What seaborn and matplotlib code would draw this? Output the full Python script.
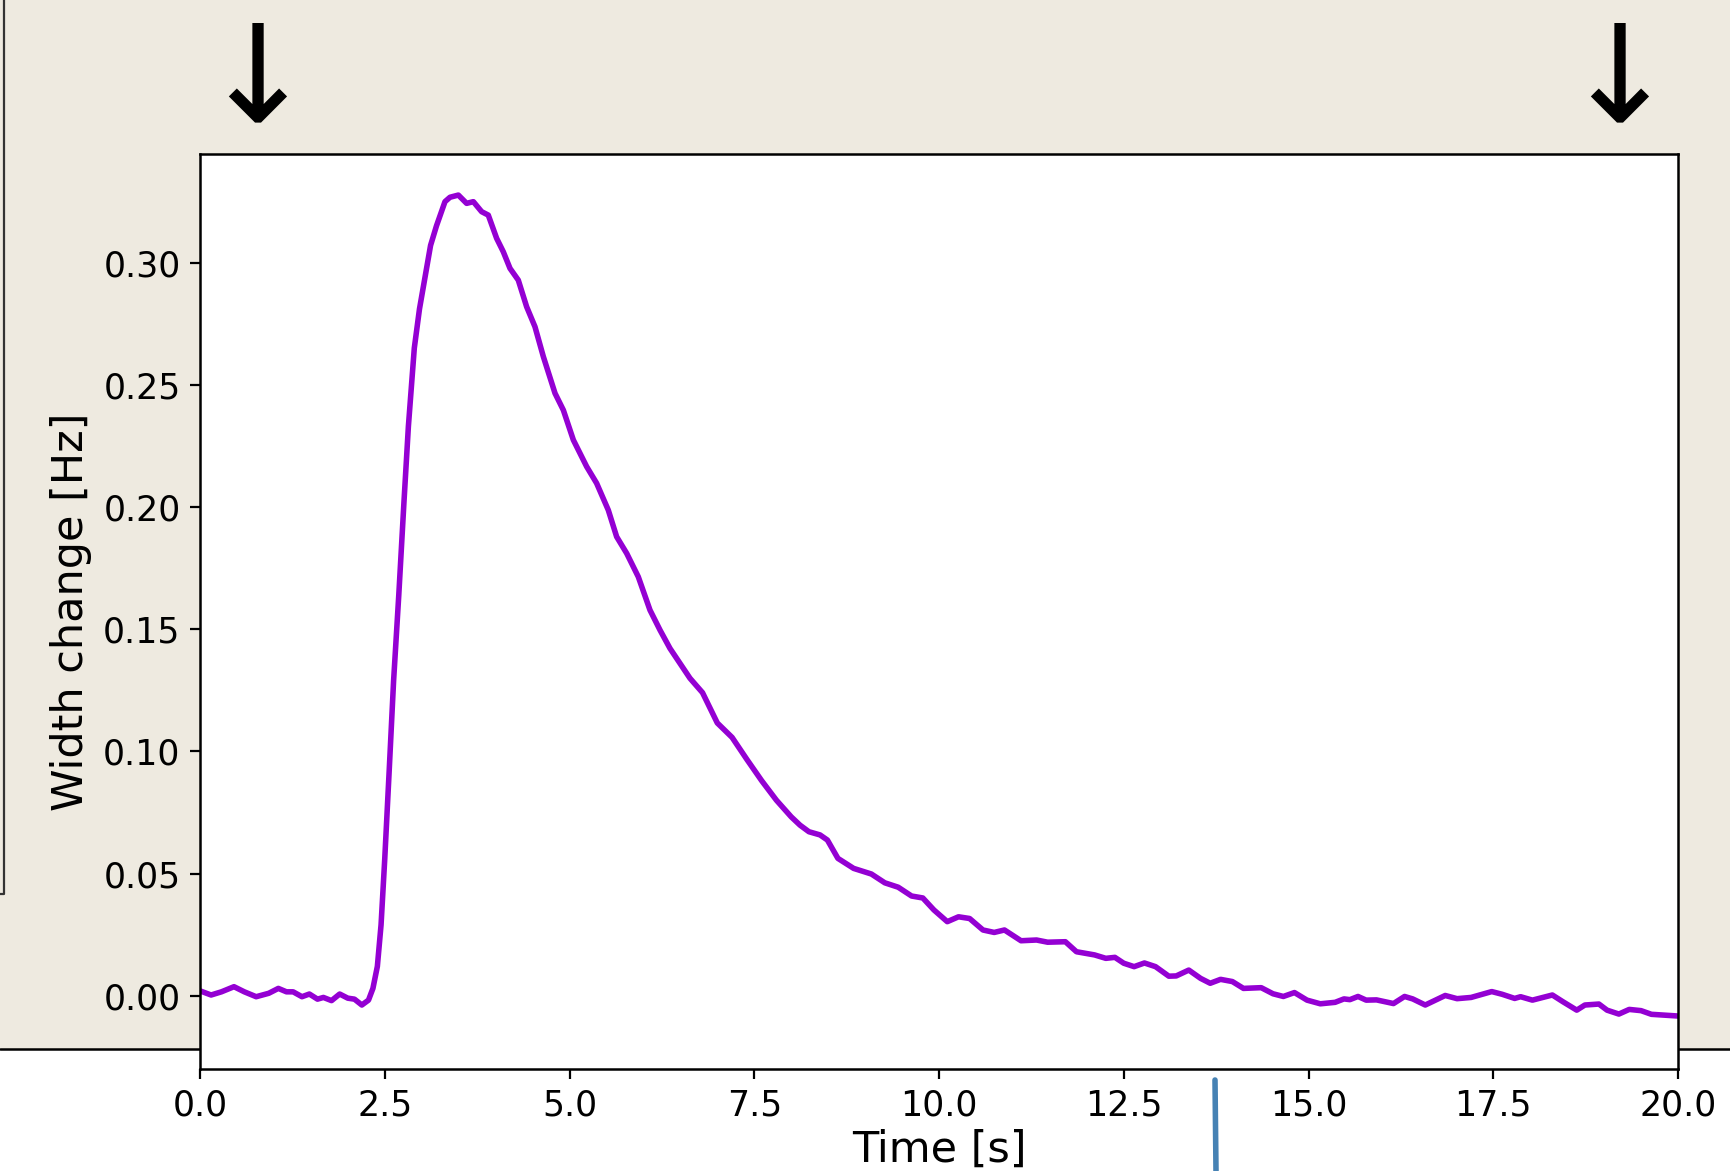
import numpy as np
import pandas as pd
import matplotlib
matplotlib.use("Agg")
import matplotlib.pyplot as plt
from matplotlib.patches import Rectangle
from matplotlib.lines import Line2D
import seaborn as sns

# ---- data ----
time_s = [0.00, 0.15, 0.29, 0.46, 0.60, 0.76, 0.93, 1.06, 1.17, 1.26, 1.38, 1.48, 1.59, 1.67,
          1.78, 1.89, 2.00, 2.09, 2.19, 2.28, 2.34, 2.40, 2.45, 2.50, 2.56, 2.62, 2.69, 2.76,
          2.82, 2.90, 2.97, 3.05, 3.12, 3.20, 3.315, 3.383, 3.496, 3.608, 3.699, 3.811, 3.901,
          4.014, 4.104, 4.195, 4.307, 4.42, 4.533, 4.646, 4.804, 4.917, 5.052, 5.232, 5.367,
          5.525, 5.638, 5.774, 5.931, 6.089, 6.225, 6.36, 6.495, 6.63, 6.8, 7.0, 7.2, 7.4, 7.6,
          7.8, 8.0, 8.119, 8.24, 8.39, 8.49, 8.632, 8.845, 9.085, 9.267, 9.448, 9.629, 9.781,
          9.931, 10.112, 10.264, 10.414, 10.595, 10.747, 10.886, 11.11, 11.32, 11.47, 11.71,
          11.86, 12.105, 12.257, 12.38, 12.50, 12.64, 12.78, 12.93, 13.11, 13.21, 13.38, 13.54,
          13.67, 13.81, 13.97, 14.12, 14.36, 14.52, 14.66, 14.81, 14.98, 15.16, 15.36, 15.48,
          15.56, 15.67, 15.78, 15.92, 16.15, 16.30, 16.41, 16.58, 16.85, 17.01, 17.20, 17.48,
          17.62, 17.79, 17.87, 18.03, 18.30, 18.44, 18.63, 18.74, 18.93, 19.04, 19.20, 19.34,
          19.50, 19.64, 19.80, 20.00]
width_change_hz = [0.0020, 0.0003, 0.0016, 0.0037, 0.0016, -0.0004, 0.0010, 0.0030, 0.0016,
                   0.0016, -0.0004, 0.0007, -0.0014, -0.0007, -0.0020, 0.0007, -0.0010, -0.0014,
                   -0.0038, -0.0018, 0.0030, 0.0120, 0.0290, 0.0560, 0.0920, 0.1290, 0.1640,
                   0.2020, 0.2330, 0.2650, 0.2810, 0.2950, 0.3070, 0.3150, 0.3249, 0.3267, 0.3276,
                   0.3242, 0.3249, 0.3208, 0.3194, 0.3099, 0.3044, 0.2976, 0.2928, 0.2819, 0.2737,
                   0.2615, 0.2465, 0.2396, 0.2274, 0.2165, 0.2097, 0.1987, 0.1878, 0.1810, 0.1714,
                   0.1578, 0.1496, 0.1421, 0.1360, 0.1299, 0.1240, 0.1116, 0.1057, 0.0967, 0.0880,
                   0.0800, 0.0732, 0.0698, 0.0671, 0.0658, 0.0637, 0.0562, 0.0521, 0.0498, 0.0462,
                   0.0444, 0.0408, 0.0400, 0.0351, 0.0303, 0.0323, 0.0316, 0.0269, 0.0259, 0.0269,
                   0.0225, 0.0228, 0.0219, 0.0221, 0.0180, 0.0167, 0.0153, 0.0157, 0.0133, 0.0119,
                   0.0134, 0.0119, 0.0080, 0.0081, 0.0105, 0.0071, 0.0051, 0.0067, 0.0058, 0.0030,
                   0.0033, 0.0008, -0.0003, 0.0013, -0.0018, -0.0033, -0.0027, -0.0013, -0.0016,
                   -0.0003, -0.0018, -0.0017, -0.0032, -0.0003, -0.0013, -0.0038, 0.0001, -0.0012,
                   -0.0007, 0.0017, 0.0006, -0.0011, -0.0004, -0.0018, 0.0003, -0.0024, -0.0059,
                   -0.0038, -0.0034, -0.0059, -0.0075, -0.0056, -0.0061, -0.0076, -0.0079, -0.0083]
x_ticks = [0.0, 2.5, 5.0, 7.5, 10.0, 12.5, 15.0, 17.5, 20.0]
y_ticks = [0.00, 0.05, 0.10, 0.15, 0.20, 0.25, 0.30]
x_label = "Time [s]"
y_label = "Width change [Hz]"

df = pd.DataFrame({"t": time_s, "w": width_change_hz})

sns.set_style("ticks")
plt.rcParams["font.family"] = ["DejaVu Sans"]
plt.rcParams["text.color"] = "black"
plt.rcParams["axes.labelcolor"] = "black"
plt.rcParams["xtick.color"] = "black"
plt.rcParams["ytick.color"] = "black"

W, H, DPI = 1731, 1171, 200
fig = plt.figure(figsize=(W / DPI, H / DPI), dpi=DPI, facecolor="white")

BEIGE = "#EEEAE0"
# background panel (beige) behind the axes
fig.patches.append(Rectangle((0, 1 - 1049 / H), 1, 1049 / H, transform=fig.transFigure,
                             facecolor=BEIGE, edgecolor="none", zorder=-2))
fig.lines.append(Line2D([0, 1], [1 - 1049 / H] * 2, transform=fig.transFigure,
                        color="black", lw=0.9, zorder=-1))
# left panel outline
fig.lines.append(Line2D([0, 4 / W, 4 / W], [1 - 894 / H, 1 - 894 / H, 1.0],
                        transform=fig.transFigure, color="#333333", lw=0.8, zorder=-1))

ax = fig.add_axes([200 / W, 1 - 1069.3 / H, 1478 / W, (1069.3 - 154) / H])
ax.set_facecolor("white")
sns.lineplot(data=df, x="t", y="w", ax=ax, color="#9400D3", lw=2.0)

ax.set_xlim(0, 20)
ax.set_ylim(-0.0301, 0.3444)
ax.set_xticks(x_ticks)
ax.set_yticks(y_ticks)
ax.set_xticklabels([f"{v:.1f}" for v in x_ticks])
ax.set_yticklabels([f"{v:.2f}" for v in y_ticks])
ax.tick_params(labelsize=12.5, length=3.5, width=0.8, color="black", labelcolor="black")
for s in ax.spines.values():
    s.set_visible(True)
    s.set_color("black")
    s.set_linewidth(0.9)
ax.set_xlabel(x_label, fontsize=15.5, labelpad=2, color="black")
ax.set_ylabel(y_label, fontsize=15.5, color="black")

# arrows above the axes
for xa in (257 / W, 1619 / W):
    fig.text(xa, 1 - 84 / H, "\u2193", fontsize=49, ha="center", va="center", color="black")

# blue marker line at the bottom
fig.lines.append(Line2D([1215 / W, 1216 / W], [1 - 1080 / H, 0], transform=fig.transFigure,
                        color="#4682B4", lw=2.0))

fig.savefig("out.png", dpi=DPI, facecolor="white")
